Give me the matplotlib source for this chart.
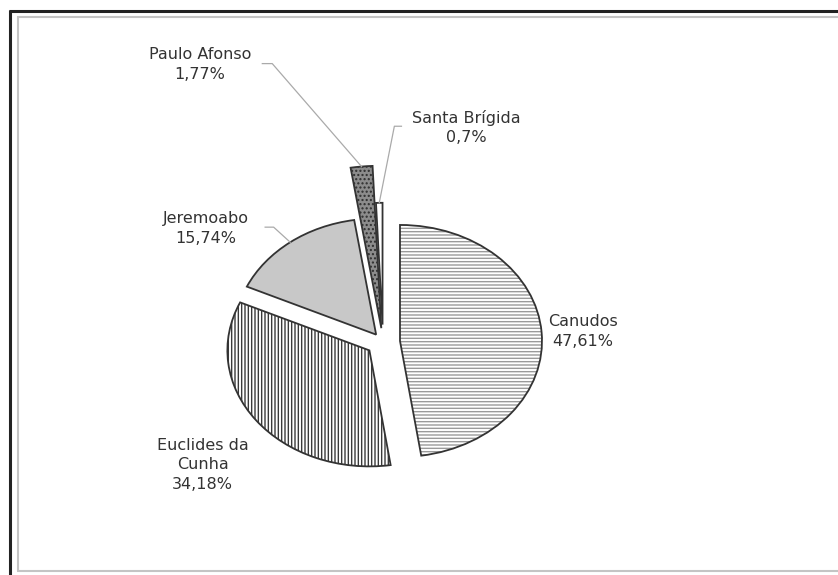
import matplotlib
matplotlib.use("Agg")
import matplotlib.pyplot as plt
from matplotlib.lines import Line2D
import numpy as np

# data
municipios = ["Canudos", "Euclides da\nCunha", "Jeremoabo", "Paulo Afonso", "Santa Brígida"]
percentuais = [47.61, 34.18, 15.74, 1.77, 0.7]

# styling per slice
explode = [0.12, 0.12, 0.08, 0.12, 0.15]
raios = [1.0, 1.0, 1.0, 1.4, 1.05]
faces = ["white", "white", "#c8c8c8", "#8c8c8c", "white"]
hatches = ["-----", "|||||", "", "....", ""]
hatch_cores = ["#9a9a9a", "#3a3a3a", "#c8c8c8", "#2e2e2e", "white"]

# label placement (data units, pie centre = 0,0)
label_pos = [(1.41, 0.09), (-1.27, -1.06), (-1.25, 0.98), (-1.29, 2.39), (0.59, 1.85)]

W, H = 838, 575
fig = plt.figure(figsize=(W / 100, H / 100), dpi=100)
ax = fig.add_axes([0, 0, 1, 1])

# pixel scale: 142 px per unit across, 116 px per unit down -> squashed pie
cx, cy, sx, sy = 383, 342, 142, 116

plt.rcParams["hatch.linewidth"] = 1.0

# filled / hatched layer
fill_wedges, _ = ax.pie(percentuais, explode=explode, startangle=90, counterclock=False,
                        colors=faces, wedgeprops=dict(linewidth=0), frame=True)
# outline layer
line_wedges, _ = ax.pie(percentuais, explode=explode, startangle=90, counterclock=False,
                        wedgeprops=dict(fill=False, edgecolor="#333333", linewidth=1.3),
                        frame=True)
ax.set_aspect("auto")
ax.set_axis_off()
ax.set_xlim(-cx / sx, (W - cx) / sx)
ax.set_ylim(-(H - cy) / sy, cy / sy)

for w, lw_, h, hc, r in zip(fill_wedges, line_wedges, hatches, hatch_cores, raios):
    w.set_radius(r)
    lw_.set_radius(r)
    w.set_hatch(h)
    w.set_edgecolor(hc)
    w.set_linewidth(0)

# labels
txt = dict(ha="center", va="center", fontsize=11.5, color="#333333",
           family="DejaVu Sans", linespacing=1.4)
for i, (nome, v) in enumerate(zip(municipios, percentuais)):
    etiqueta = nome + "\n" + str(v).replace(".", ",") + "%"
    ax.text(label_pos[i][0], label_pos[i][1], etiqueta, **txt)

# leader lines to the outer edge of the small slices
ang_ini = 90.0
meio = []
for v in percentuais:
    span = 360 * v / sum(percentuais)
    meio.append(np.deg2rad(ang_ini - span / 2))
    ang_ini -= span


def borda(i, frac=1.0):
    d = explode[i] + raios[i] * frac
    return d * np.cos(meio[i]), d * np.sin(meio[i])


guia = "#aaaaaa"
# Paulo Afonso
px, py = borda(3)
ax.plot([-0.85, -0.78, px], [2.40, 2.40, py], color=guia, lw=0.9)
# Santa Brígida
sbx, sby = borda(4)
ax.plot([0.13, 0.08, sbx], [1.86, 1.86, sby], color=guia, lw=0.9)
# Jeremoabo
jx, jy = borda(2)
ax.plot([-0.83, -0.77, jx], [0.99, 0.99, jy], color=guia, lw=0.9)

# picture frame (black outer, grey inner)
def linha(xs, ys, cor, lw):
    fig.add_artist(Line2D([x / W for x in xs], [1 - y / H for y in ys],
                          color=cor, lw=lw, solid_capstyle="butt"))


linha([9, W], [10.5, 10.5], "#222222", 2.2)
linha([9.5, 9.5], [9.5, H], "#222222", 2.2)
linha([17, W], [16.5, 16.5], "#c4c4c4", 1.5)
linha([17.5, 17.5], [16, 571], "#c4c4c4", 1.5)
linha([17, W], [570.5, 570.5], "#c4c4c4", 1.5)

fig.savefig("out.png", dpi=100, facecolor="white")
